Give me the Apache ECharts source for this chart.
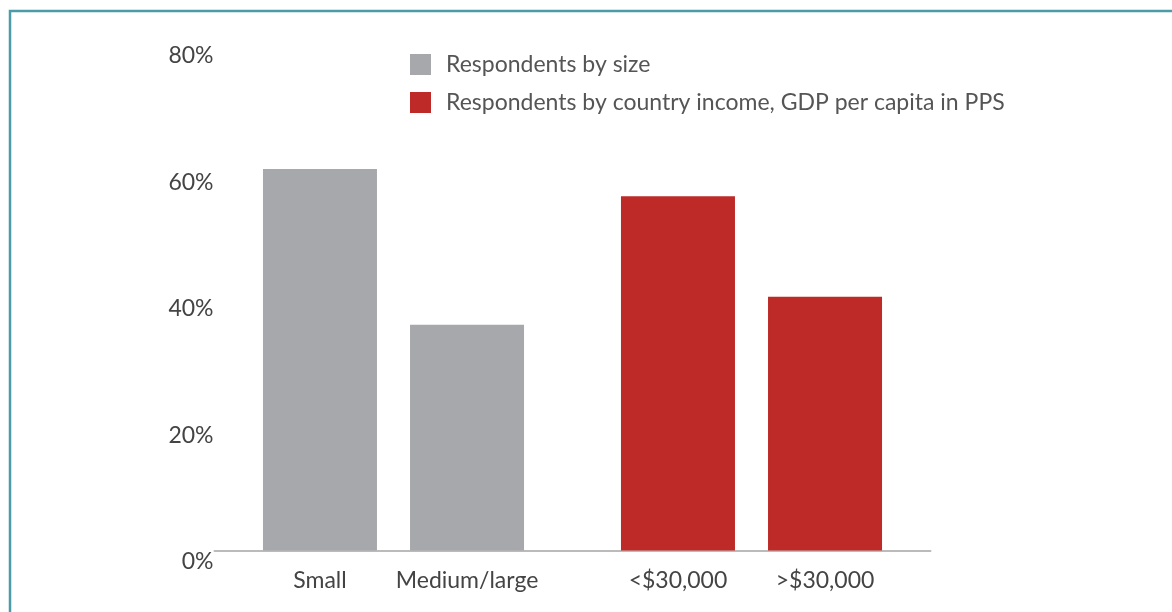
<!DOCTYPE html>
<html>
<head>
<meta charset="utf-8">
<script src="https://cdn.jsdelivr.net/npm/echarts@6/dist/echarts.min.js"></script>
<style>
html,body{margin:0;padding:0;background:#fff;}
#chart{width:1172px;height:612px;}
</style>
</head>
<body>
<div id="chart"></div>
<script>
// Data
var groups = ['Respondents by size', 'Respondents by country income'];
var sizeLabels = ['Small', 'Medium/large'];
var sizeValues = [60.3, 35.7];
var incomeLabels = ['<$30,000', '>$30,000'];
var incomeValues = [56.0, 40.1];
var yTicks = [0, 20, 40, 60, 80];
var seriesNames = ['Respondents by size', 'Respondents by country income, GDP per capita in PPS'];

var GRAY = '#a7a8ab', RED = '#bd2a27';
var FONT = 'Lato, sans-serif';
var FS = 23;

function barLabel(text) {
  return {
    show: true,
    position: 'bottom',
    distance: 19,
    formatter: function () { return text; },
    color: '#444',
    fontSize: FS,
    fontFamily: FONT
  };
}

function mk(name, color, vals, slotLabels, stack) {
  return {
    name: name,
    type: 'bar',
    stack: stack,
    barWidth: 114,
    barGap: '29%',
    itemStyle: { color: color },
    data: vals.map(function (v, i) {
      if (v === null) return '-';
      return { value: v, label: barLabel(slotLabels[i]) };
    }),
    emphasis: { disabled: true }
  };
}

var chart = echarts.init(document.getElementById('chart'), null, { renderer: 'canvas' });
chart.setOption({
  animation: false,
  backgroundColor: '#fff',
  graphic: [{
    type: 'polyline',
    shape: { points: [[10, 612], [10, 11], [1172, 11]] },
    style: { stroke: '#4b9ca6', lineWidth: 2.5, fill: null },
    silent: true
  }],
  legend: {
    orient: 'vertical',
    left: 405,
    top: 48,
    itemWidth: 21,
    itemHeight: 21,
    itemGap: 15,
    icon: 'rect',
    data: seriesNames,
    selectedMode: false,
    textStyle: { color: '#555', fontSize: FS, fontFamily: FONT, padding: [0, 0, 0, 10] }
  },
  grid: { left: 214.5, right: 241.5, top: 44.5, bottom: 61.5, containLabel: false },
  xAxis: {
    type: 'category',
    data: groups,
    axisLine: { show: true, lineStyle: { color: '#bbbbbb', width: 2 } },
    axisTick: { show: false },
    axisLabel: { show: false },
    splitLine: { show: false }
  },
  yAxis: {
    type: 'value',
    min: yTicks[0],
    max: yTicks[yTicks.length - 1],
    interval: 20,
    axisLine: { show: false },
    axisTick: { show: false },
    splitLine: { show: false },
    axisLabel: {
      margin: 1,
      color: '#444',
      fontSize: FS,
      fontFamily: FONT,
      verticalAlign: 'top',
      formatter: function (v) { return yTicks.indexOf(v) >= 0 ? v + '%' : ''; }
    }
  },
  series: [
    mk(seriesNames[0], GRAY, [sizeValues[0], null], [sizeLabels[0], ''], 'a'),
    mk(seriesNames[1], RED, [null, incomeValues[0]], ['', incomeLabels[0]], 'a'),
    mk(seriesNames[0], GRAY, [sizeValues[1], null], [sizeLabels[1], ''], 'b'),
    mk(seriesNames[1], RED, [null, incomeValues[1]], ['', incomeLabels[1]], 'b')
  ]
});
</script>
</body>
</html>
